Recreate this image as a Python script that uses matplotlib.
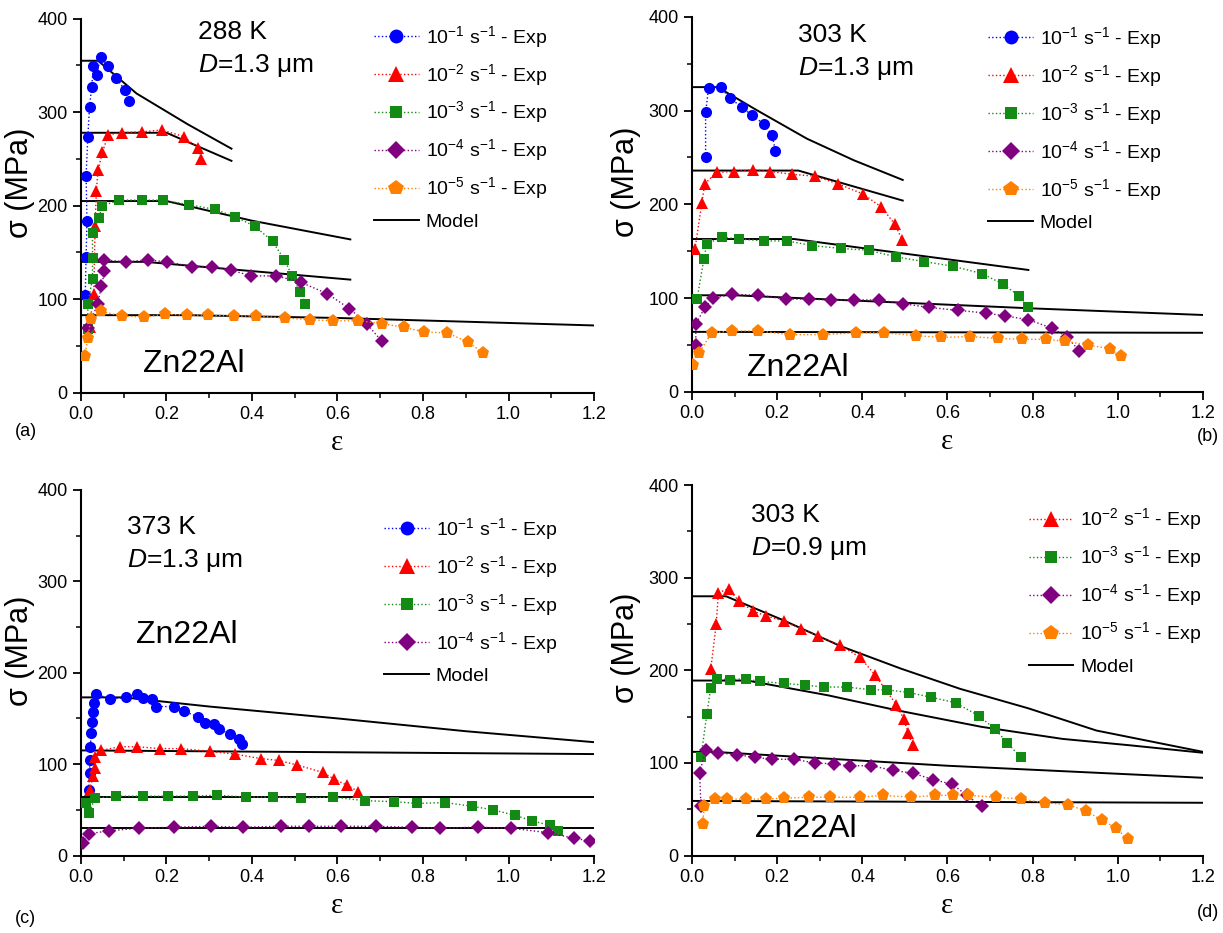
import numpy as np
import matplotlib
matplotlib.use("Agg")
import matplotlib.pyplot as plt
from matplotlib.ticker import MultipleLocator
from matplotlib.lines import Line2D

plt.rcParams.update({
    "font.family": ["Liberation Sans", "DejaVu Sans"],
    "mathtext.fontset": "custom",
    "mathtext.rm": "Liberation Sans",
    "mathtext.it": "Liberation Sans:italic",
    "mathtext.bf": "Liberation Sans:bold",
})

# legend labels / styles per strain rate
rate_labels = [r"$10^{-1}$ s$^{-1}$ - Exp", r"$10^{-2}$ s$^{-1}$ - Exp",
               r"$10^{-3}$ s$^{-1}$ - Exp", r"$10^{-4}$ s$^{-1}$ - Exp",
               r"$10^{-5}$ s$^{-1}$ - Exp"]
colors = ["#0000FF", "#FF0000", "#138A13", "#800080", "#FF8000"]
markers = ["o", "^", "s", "D", "p"]
msizes = [8, 9, 7, 7.5, 9.5]

# ---- (a) 288 K, D=1.3 um
a1_x = [0.010, 0.012, 0.014, 0.012, 0.016, 0.020, 0.025, 0.029, 0.037, 0.046, 0.064, 0.082, 0.102, 0.112]
a1_y = [105, 145, 184, 232, 273, 306, 327, 349, 340, 359, 349, 337, 324, 312]
a2_x = [0.020, 0.030, 0.033, 0.036, 0.040, 0.050, 0.064, 0.096, 0.142, 0.189, 0.240, 0.273, 0.281]
a2_y = [70, 106, 178, 216, 238, 257, 276, 278, 279, 281, 274, 262, 250]
a3_x = [0.016, 0.016, 0.027, 0.027, 0.027, 0.042, 0.050, 0.090, 0.142, 0.192, 0.253, 0.314, 0.361,
        0.407, 0.448, 0.476, 0.494, 0.512, 0.524]
a3_y = [68, 95, 122, 144, 171, 187, 200, 206, 206, 206, 201, 196, 188, 178, 162, 142, 125, 108, 95]
a4_x = [0.016, 0.039, 0.048, 0.055, 0.055, 0.105, 0.156, 0.201, 0.259, 0.306, 0.352, 0.398, 0.457,
        0.515, 0.576, 0.628, 0.668, 0.704]
a4_y = [69, 95, 114, 130, 142, 140, 142, 140, 135, 135, 131, 125, 125, 118, 106, 90, 74, 55]
a5_x = [0.009, 0.016, 0.023, 0.048, 0.096, 0.148, 0.197, 0.247, 0.297, 0.357, 0.410, 0.478, 0.535,
        0.590, 0.648, 0.704, 0.756, 0.803, 0.857, 0.906, 0.940]
a5_y = [39, 59, 79, 87, 82, 81, 84, 83, 83, 82, 82, 80, 78, 77, 77, 74, 70, 65, 64, 54, 43]
am_x = [[0, 0.04, 0.13, 0.25, 0.352], [0, 0.2, 0.352], [0, 0.2, 0.4, 0.63], [0, 0.15, 0.63], [0, 0.25, 0.6, 1.2]]
am_y = [[355, 355, 320, 287, 261], [278, 278, 248], [205, 205, 184, 164], [140, 140, 121], [83, 83, 80, 72]]

# ---- (b) 303 K, D=1.3 um
b1_x = [0.032, 0.032, 0.039, 0.067, 0.089, 0.117, 0.140, 0.168, 0.188, 0.196]
b1_y = [250, 298, 324, 325, 313, 304, 295, 286, 274, 257]
b2_x = [0.007, 0.023, 0.030, 0.058, 0.098, 0.144, 0.184, 0.236, 0.289, 0.342, 0.402, 0.445, 0.476, 0.494]
b2_y = [152, 201, 222, 234, 235, 237, 235, 232, 230, 222, 211, 197, 179, 162]
b3_x = [0.012, 0.028, 0.035, 0.071, 0.110, 0.170, 0.223, 0.283, 0.349, 0.415, 0.479, 0.544, 0.613,
        0.682, 0.730, 0.769, 0.788]
b3_y = [99, 142, 158, 165, 163, 161, 161, 156, 153, 151, 144, 139, 134, 126, 115, 102, 90]
b4_x = [0.009, 0.009, 0.030, 0.049, 0.095, 0.156, 0.220, 0.274, 0.326, 0.381, 0.439, 0.496, 0.557,
        0.624, 0.690, 0.735, 0.790, 0.845, 0.880, 0.909]
b4_y = [50, 72, 90, 100, 104, 103, 99, 99, 98, 98, 98, 94, 90, 87, 84, 81, 77, 68, 59, 44]
b5_x = [0.003, 0.016, 0.046, 0.095, 0.156, 0.230, 0.308, 0.386, 0.450, 0.526, 0.586, 0.652, 0.719,
        0.776, 0.831, 0.875, 0.930, 0.981, 1.008]
b5_y = [29, 41, 63, 65, 65, 61, 61, 63, 63, 60, 58, 59, 57, 56, 56, 54, 50, 46, 38]
bm_x = [[0, 0.06, 0.15, 0.27, 0.38, 0.495], [0, 0.25, 0.495], [0, 0.24, 0.79], [0, 0.1, 0.5, 0.8, 1.2], [0, 1.2]]
bm_y = [[325, 325, 301, 270, 247, 226], [236, 236, 204], [163, 163, 130], [103, 103, 95, 89, 82], [64, 63]]

# ---- (c) 373 K, D=1.3 um
c1_x = [0.018, 0.020, 0.021, 0.022, 0.024, 0.026, 0.028, 0.030, 0.035, 0.068, 0.105, 0.132, 0.146,
        0.165, 0.176, 0.217, 0.240, 0.273, 0.289, 0.310, 0.322, 0.349, 0.370, 0.377]
c1_y = [72, 90, 104, 119, 134, 146, 157, 167, 177, 171, 173, 177, 172, 171, 163, 163, 158, 152,
        145, 144, 138, 133, 127, 122]
c2_x = [0.021, 0.028, 0.033, 0.032, 0.047, 0.091, 0.132, 0.184, 0.233, 0.301, 0.360, 0.421, 0.463,
        0.506, 0.565, 0.591, 0.622, 0.649]
c2_y = [72, 87, 96, 108, 115, 119, 119, 117, 117, 114, 111, 106, 104, 99, 91, 84, 77, 70]
c3_x = [0.011, 0.019, 0.033, 0.083, 0.145, 0.203, 0.261, 0.319, 0.385, 0.449, 0.515, 0.590, 0.664,
        0.732, 0.787, 0.852, 0.914, 0.963, 1.016, 1.055, 1.097, 1.116]
c3_y = [57, 47, 63, 65, 65, 65, 65, 66, 64, 64, 63, 64, 60, 59, 57, 58, 54, 50, 44, 38, 33, 27]
c4_x = [0.004, 0.019, 0.066, 0.136, 0.217, 0.303, 0.379, 0.467, 0.534, 0.608, 0.690, 0.774, 0.840,
        0.928, 1.005, 1.093, 1.153, 1.190]
c4_y = [14, 24, 27, 30, 31, 32, 31, 32, 32, 32, 32, 31, 30, 31, 30, 25, 19, 16]
cm_x = [[0, 0.1, 0.3, 0.6, 0.9, 1.2], [0, 0.3, 1.2], [0, 1.2], [0, 1.2]]
cm_y = [[173, 173, 163, 150, 136, 124], [115, 114, 111], [64, 64], [30, 30]]

# ---- (d) 303 K, D=0.9 um
d2_x = [0.044, 0.057, 0.062, 0.086, 0.110, 0.143, 0.173, 0.216, 0.256, 0.297, 0.348, 0.395, 0.430,
        0.480, 0.497, 0.508, 0.518]
d2_y = [201, 250, 284, 288, 275, 264, 259, 253, 245, 237, 227, 214, 195, 163, 148, 132, 119]
d3_x = [0.021, 0.035, 0.044, 0.058, 0.089, 0.126, 0.159, 0.216, 0.265, 0.311, 0.363, 0.421, 0.458,
        0.510, 0.561, 0.619, 0.673, 0.711, 0.740, 0.772]
d3_y = [106, 153, 181, 191, 190, 191, 188, 186, 184, 182, 182, 179, 179, 176, 171, 165, 151, 137, 122, 106]
d4_x = [0.021, 0.018, 0.032, 0.060, 0.106, 0.147, 0.189, 0.239, 0.288, 0.333, 0.372, 0.421, 0.472,
        0.518, 0.567, 0.611, 0.646, 0.680]
d4_y = [54, 89, 114, 111, 109, 106, 104, 104, 100, 99, 97, 97, 92, 89, 82, 77, 65, 53]
d5_x = [0.025, 0.029, 0.053, 0.083, 0.126, 0.173, 0.216, 0.274, 0.325, 0.394, 0.448, 0.515, 0.570,
        0.614, 0.648, 0.715, 0.772, 0.829, 0.883, 0.926, 0.964, 0.995, 1.023]
d5_y = [34, 54, 61, 61, 61, 61, 62, 63, 63, 63, 65, 63, 65, 65, 65, 63, 61, 57, 55, 48, 38, 30, 18]
dm_x = [[0, 0.08, 0.21, 0.35, 0.49, 0.63, 0.79, 0.95, 1.2], [0, 0.13, 0.32, 0.48, 0.68, 0.87, 1.03, 1.2],
        [0, 0.05, 0.6, 1.2], [0, 1.2]]
dm_y = [[280, 280, 255, 226, 202, 180, 159, 135, 112], [189, 189, 173, 157, 139, 126, 119, 111],
        [112, 112, 97, 84], [59, 57]]

temps = ["288 K", "303 K", "373 K", "303 K"]
grains = [r"$D$=1.3 μm", r"$D$=1.3 μm", r"$D$=1.3 μm", r"$D$=0.9 μm"]
tags = ["(a)", "(b)", "(c)", "(d)"]


def draw(ax, series, rate_idx, mx, my, temp, grain, txt_xy, alloy_xy, leg_anchor, ylab_x):
    handles = []
    for (x, y), k in zip(series, rate_idx):
        ax.plot(x, y, linestyle=":", linewidth=1.0, color=colors[k], marker=markers[k],
                markersize=msizes[k], markeredgewidth=0, zorder=3)
        handles.append(Line2D([], [], linestyle=":", linewidth=1.0, color=colors[k],
                              marker=markers[k], markersize=msizes[k] + 2, markeredgewidth=0,
                              label=rate_labels[k]))
    for x, y in zip(mx, my):
        ax.plot(x, y, color="black", linewidth=1.4, zorder=2)
    handles.append(Line2D([], [], color="black", linewidth=1.4, label="Model"))

    ax.set_xlim(0, 1.2)
    ax.set_ylim(0, 400)
    ax.xaxis.set_major_locator(MultipleLocator(0.2))
    ax.xaxis.set_minor_locator(MultipleLocator(0.1))
    ax.yaxis.set_major_locator(MultipleLocator(100))
    ax.yaxis.set_minor_locator(MultipleLocator(50))
    ax.xaxis.set_major_formatter(plt.FuncFormatter(lambda v, p: f"{v:.1f}"))
    for s in ["top", "right"]:
        ax.spines[s].set_visible(False)
    for s in ["left", "bottom"]:
        ax.spines[s].set_linewidth(1.5)
    ax.tick_params(which="major", direction="out", length=6, width=1.3, labelsize=13)
    ax.tick_params(which="minor", direction="out", length=3.5, width=1.1)
    ax.set_ylabel("σ (MPa)", fontsize=22)
    ax.yaxis.set_label_coords(ylab_x, 0.56)
    ax.set_xlabel("ε", fontsize=21, family="Liberation Serif", labelpad=5)

    ax.text(txt_xy[0], txt_xy[1], temp, fontsize=19, va="center")
    ax.text(txt_xy[0], txt_xy[1] - 36, grain, fontsize=19, va="center")
    ax.text(alloy_xy[0], alloy_xy[1], "Zn22Al", fontsize=23, va="center")
    ax.legend(handles=handles, loc="upper right", bbox_to_anchor=leg_anchor, frameon=False,
              fontsize=14, handlelength=2.3, handletextpad=0.35, labelspacing=0.62,
              borderpad=0.2, numpoints=1)


fig = plt.figure(figsize=(12.23, 9.33), dpi=100)
ax_a = fig.add_axes([0.0662, 0.579, 0.4195, 0.401])
ax_b = fig.add_axes([0.5658, 0.580, 0.4178, 0.402])
ax_c = fig.add_axes([0.0662, 0.083, 0.4195, 0.392])
ax_d = fig.add_axes([0.5658, 0.083, 0.4178, 0.397])

draw(ax_a, [(a1_x, a1_y), (a2_x, a2_y), (a3_x, a3_y), (a4_x, a4_y), (a5_x, a5_y)], [0, 1, 2, 3, 4],
     am_x, am_y, temps[0], grains[0], (0.274, 386), (0.146, 31), (0.935, 1.023), -0.09)
draw(ax_b, [(b1_x, b1_y), (b2_x, b2_y), (b3_x, b3_y), (b4_x, b4_y), (b5_x, b5_y)], [0, 1, 2, 3, 4],
     bm_x, bm_y, temps[1], grains[1], (0.25, 381), (0.129, 25), (0.945, 1.015), -0.10)
draw(ax_c, [(c1_x, c1_y), (c2_x, c2_y), (c3_x, c3_y), (c4_x, c4_y)], [0, 1, 2, 3],
     cm_x, cm_y, temps[2], grains[2], (0.107, 359), (0.129, 241), (0.955, 0.966), -0.09)
draw(ax_d, [(d2_x, d2_y), (d3_x, d3_y), (d4_x, d4_y), (d5_x, d5_y)], [1, 2, 3, 4],
     dm_x, dm_y, temps[3], grains[3], (0.138, 368), (0.147, 29), (1.024, 0.979), -0.10)

fig.text(0.012, 0.537, tags[0], fontsize=13, va="center")
fig.text(0.997, 0.532, tags[1], fontsize=13, va="center", ha="right")
fig.text(0.012, 0.016, tags[2], fontsize=13, va="center")
fig.text(0.997, 0.022, tags[3], fontsize=13, va="center", ha="right")

fig.savefig("out.png", dpi=100)
